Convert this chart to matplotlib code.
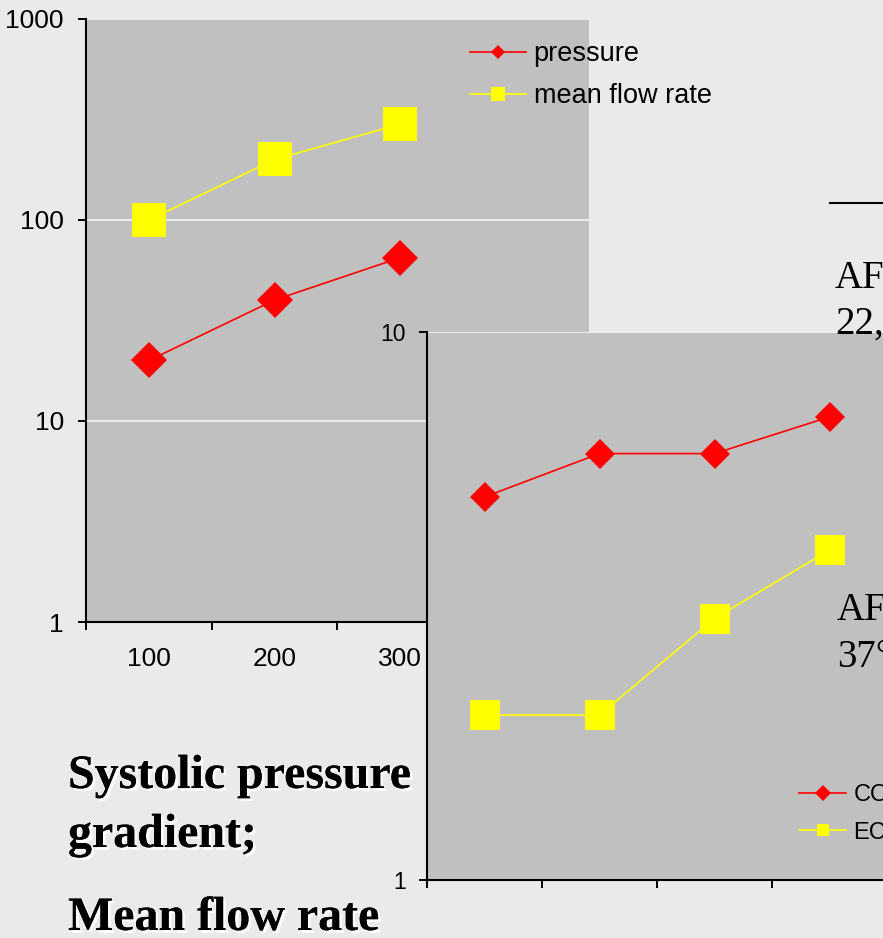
import matplotlib
matplotlib.use("Agg")
import matplotlib.pyplot as plt
import matplotlib.patheffects as pe
from matplotlib.lines import Line2D
from matplotlib.ticker import FixedLocator, NullLocator, FuncFormatter

# ── data ──────────────────────────────────────────────────────────────────────
rate_labels = ["100", "200", "300"]
pressure = [20, 40, 65]
mean_flow = [100, 200, 300]

co_values = [5, 6, 6, 7]
ec_values = [2, 2, 3, 4]

W, H = 883, 938
BG = "#EAEAEA"
PLOT_BG = "#C0C0C0"
RED = "#FF0000"
YELLOW = "#FFFF00"
SANS = "Liberation Sans"
SERIF = "Liberation Serif"


def box(x0, y0, x1, y1):
    # pixel box (top-left origin) -> figure fraction rect
    return [x0 / W, 1 - y1 / H, (x1 - x0) / W, (y1 - y0) / H]


fig = plt.figure(figsize=(W / 100, H / 100), dpi=100, facecolor=BG)

# ── chart 1: pressure / mean flow rate ───────────────────────────────────────
ax1 = fig.add_axes(box(86, 19, 589, 622))
ax1.set_facecolor(PLOT_BG)
x1 = list(range(1, len(pressure) + 1))
ax1.plot(x1, pressure, color=RED, lw=1.2, marker="D", ms=18.5, mew=0, zorder=3)
ax1.plot(x1, mean_flow, color=YELLOW, lw=1.2, marker="s", ms=24, mew=0, zorder=3)
ax1.set_yscale("log")
ax1.set_ylim(1, 1000)
ax1.set_xlim(0.5, 4.5)
ax1.yaxis.set_major_locator(FixedLocator([1, 10, 100, 1000]))
ax1.yaxis.set_minor_locator(NullLocator())
ax1.yaxis.set_major_formatter(FuncFormatter(lambda v, p: f"{v:g}"))
ax1.set_xticks(x1)
ax1.set_xticklabels(rate_labels)
ax1.set_xticks([0.5, 1.5, 2.5, 3.5, 4.5], minor=True)
ax1.tick_params(axis="x", which="major", length=0, pad=18, labelsize=19)
ax1.tick_params(axis="x", which="minor", length=6, width=1.4, direction="out")
ax1.tick_params(axis="y", which="major", length=6, width=1.4, pad=10, labelsize=19)
for lab in ax1.get_xticklabels() + ax1.get_yticklabels():
    lab.set_family(SANS)
ax1.yaxis.grid(True, color="#ECECEC", lw=1.5)
ax1.set_axisbelow(True)
for s in ("top", "right"):
    ax1.spines[s].set_visible(False)
for s in ("left", "bottom"):
    ax1.spines[s].set_linewidth(1.5)

h1 = [Line2D([], [], color=RED, lw=1.2, marker="D", ms=7.5, mew=0),
      Line2D([], [], color=YELLOW, lw=1.2, marker="s", ms=10.5, mew=0)]
fig.legend(h1, ["pressure", "mean flow rate"], loc="upper left",
           bbox_to_anchor=(470 / W, 1 - 41 / H), frameon=False,
           prop={"family": SANS, "size": 19.5}, handlelength=2.05,
           handletextpad=0.3, labelspacing=0.6, borderpad=0, borderaxespad=0)

# ── chart 2: CO / EC ─────────────────────────────────────────────────────────
ax2 = fig.add_axes(box(427, 332, 887, 880))
ax2.set_facecolor(PLOT_BG)
x2 = list(range(1, len(co_values) + 1))
ax2.plot(x2, co_values, color=RED, lw=1.2, marker="D", ms=15.5, mew=0, zorder=3)
ax2.plot(x2, ec_values, color=YELLOW, lw=1.2, marker="s", ms=21.5, mew=0, zorder=3)
ax2.set_yscale("log")
ax2.set_ylim(1, 10)
ax2.set_xlim(0.5, 4.5)
ax2.yaxis.set_major_locator(FixedLocator([1, 10]))
ax2.yaxis.set_minor_locator(NullLocator())
ax2.yaxis.set_major_formatter(FuncFormatter(lambda v, p: f"{v:g}"))
ax2.set_xticks([0.5, 1.5, 2.5, 3.5, 4.5])
ax2.set_xticklabels([])
ax2.tick_params(axis="x", length=6, width=1.4, direction="out")
ax2.tick_params(axis="y", length=6, width=1.4, pad=9, labelsize=16.5)
for lab in ax2.get_yticklabels():
    lab.set_family(SANS)
ax2.yaxis.grid(True, color="#ECECEC", lw=1.5)
ax2.set_axisbelow(True)
for s in ("top", "right"):
    ax2.spines[s].set_visible(False)
for s in ("left", "bottom"):
    ax2.spines[s].set_linewidth(1.5)

h2 = [Line2D([], [], color=RED, lw=1.2, marker="D", ms=8, mew=0),
      Line2D([], [], color=YELLOW, lw=1.2, marker="s", ms=9, mew=0)]
fig.legend(h2, ["CO", "EC"], loc="upper left",
           bbox_to_anchor=(799 / W, 1 - 784 / H), frameon=False,
           prop={"family": SANS, "size": 17}, handlelength=2.0,
           handletextpad=0.3, labelspacing=0.66, borderpad=0, borderaxespad=0)

# ── slide text ───────────────────────────────────────────────────────────────
shadow = [pe.withSimplePatchShadow(offset=(2, -2), shadow_rgbFace="white", alpha=0.9),
          pe.Normal()]
for txt, yb in [("Systolic pressure", 788), ("gradient;", 847), ("Mean flow rate", 930)]:
    fig.text(68 / W, 1 - yb / H, txt, family=SERIF, weight="bold", size=34.5,
             va="baseline", ha="left", path_effects=shadow)

for txt, xl, yb in [("AF", 835, 288), ("22,", 835, 334), ("AF", 837, 620), ("37°", 837, 667)]:
    fig.text(xl / W, 1 - yb / H, txt, family=SERIF, size=28, va="baseline", ha="left")

fig.add_artist(Line2D([830 / W, 1.0], [1 - 203 / H, 1 - 203 / H], color="black", lw=1.5))

fig.savefig("out.png", dpi=100, facecolor=BG)
